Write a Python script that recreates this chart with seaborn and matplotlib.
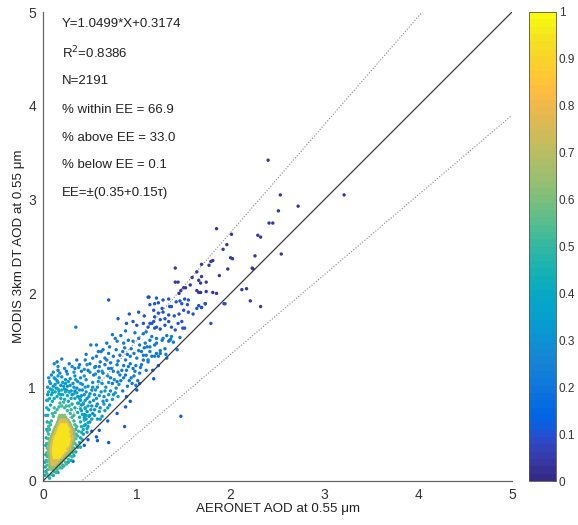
import numpy as np
import pandas as pd
import matplotlib
matplotlib.use("Agg")
import matplotlib.pyplot as plt
from matplotlib.colors import ListedColormap, Normalize
from matplotlib.cm import ScalarMappable
import seaborn as sns

# ---------------- data ----------------
# dense core, yellow
core_x = [0.12,0.145,0.17,
          0.115,0.14,0.165,0.19,
          0.11,0.135,0.16,0.185,0.21,
          0.11,0.135,0.16,0.185,0.21,0.235,
          0.11,0.135,0.16,0.185,0.21,0.235,
          0.115,0.14,0.165,0.19,0.215,0.24,0.26,
          0.12,0.145,0.17,0.195,0.22,0.245,0.27,
          0.125,0.15,0.175,0.20,0.225,0.25,0.275,
          0.13,0.155,0.18,0.205,0.23,0.255,0.28,
          0.14,0.165,0.19,0.215,0.24,0.265,
          0.15,0.175,0.20,0.225,0.25,0.275,
          0.16,0.185,0.21,0.235,0.26,
          0.17,0.195,0.22,0.245,0.27,
          0.18,0.205,0.23,0.255,
          0.195,0.22,0.245]
core_y = [0.25,0.25,0.25,
          0.275,0.275,0.275,0.275,
          0.30,0.30,0.30,0.30,0.30,
          0.325,0.325,0.325,0.325,0.325,0.325,
          0.35,0.35,0.35,0.35,0.35,0.35,
          0.375,0.375,0.375,0.375,0.375,0.375,0.375,
          0.40,0.40,0.40,0.40,0.40,0.40,0.40,
          0.425,0.425,0.425,0.425,0.425,0.425,0.425,
          0.45,0.45,0.45,0.45,0.45,0.45,0.45,
          0.475,0.475,0.475,0.475,0.475,0.475,
          0.50,0.50,0.50,0.50,0.50,0.50,
          0.525,0.525,0.525,0.525,0.525,
          0.55,0.55,0.55,0.55,0.55,
          0.575,0.575,0.575,0.575,
          0.60,0.60,0.60]
# orange ring
ring_x = [0.10,0.125, 0.095,0.12,0.145, 0.09,0.115,0.14,0.165, 0.095,0.195, 0.09,0.215,
          0.085,0.235, 0.085,0.26, 0.085,0.26,0.28, 0.09,0.285, 0.095,0.295, 0.10,0.30,
          0.105,0.305, 0.115,0.29,0.31, 0.125,0.30, 0.135,0.285,0.305, 0.145,0.295,
          0.155,0.28, 0.17,0.27, 0.18,0.205,0.23,0.255, 0.19,0.215,0.24]
ring_y = [0.175,0.175, 0.20,0.20,0.20, 0.225,0.225,0.225,0.225, 0.25,0.25, 0.275,0.275,
          0.30,0.30, 0.325,0.325, 0.35,0.35,0.35, 0.375,0.375, 0.40,0.40, 0.425,0.425,
          0.45,0.45, 0.475,0.475,0.475, 0.50,0.50, 0.525,0.525,0.525, 0.55,0.55,
          0.575,0.575, 0.60,0.60, 0.625,0.625,0.625,0.625, 0.65,0.65,0.65]
# green ring
green_x = [0.075,0.10, 0.07,0.095,0.12,0.145, 0.075,0.15,0.175, 0.07,0.17,0.195, 0.065,0.19,0.215,
           0.07,0.22,0.24, 0.065,0.24,0.26, 0.06,0.26,0.285, 0.06,0.285,0.305, 0.06,0.305,
           0.065,0.31, 0.07,0.32, 0.075,0.325, 0.08,0.33, 0.09,0.335, 0.10,0.325, 0.11,0.33,
           0.12,0.32, 0.13,0.305, 0.145,0.295, 0.155,0.28, 0.165,0.265, 0.17,0.195,0.22,0.245,
           0.18,0.205,0.23]
green_y = [0.125,0.125, 0.15,0.15,0.15,0.15, 0.175,0.175,0.175, 0.20,0.20,0.20, 0.225,0.225,0.225,
           0.25,0.25,0.25, 0.275,0.275,0.275, 0.30,0.30,0.30, 0.325,0.325,0.325, 0.35,0.35,
           0.375,0.375, 0.40,0.40, 0.425,0.425, 0.45,0.45, 0.475,0.475, 0.50,0.50, 0.525,0.525,
           0.55,0.55, 0.575,0.575, 0.60,0.60, 0.625,0.625, 0.65,0.65, 0.675,0.675,0.675,0.675,
           0.70,0.70,0.70]
# teal fringe
teal_x = [0.04,0.05,0.045,0.05,0.045,0.04,0.045,0.05,0.055,0.06,0.07,0.08,0.09,0.11,0.13,0.15,0.17,0.20,
          0.23,0.26,0.29,0.31,0.33,0.34,0.35,0.355,0.35,0.34,0.33,0.32,0.29,0.27,0.24,0.21,0.18,0.15,
          0.12,0.09,0.06,0.05,0.07,0.10,0.18,0.25,0.30,0.36,0.37,0.36,0.31,0.25,0.20,0.14,0.12,0.22,
          0.28,0.33,0.38,0.06,0.035,0.04]
teal_y = [0.08,0.12,0.17,0.21,0.26,0.30,0.35,0.40,0.45,0.50,0.55,0.60,0.64,0.69,0.73,0.76,0.79,0.80,
          0.78,0.75,0.72,0.68,0.64,0.60,0.55,0.50,0.45,0.40,0.35,0.30,0.27,0.23,0.20,0.17,0.14,0.12,
          0.10,0.07,0.05,0.53,0.62,0.72,0.83,0.80,0.76,0.58,0.48,0.38,0.26,0.18,0.14,0.09,0.78,0.84,
          0.80,0.70,0.53,0.58,0.22,0.40]
# cyan halo
cyan_x = [0.03,0.025,0.03,0.03,0.035,0.04,0.045,0.05,0.06,0.08,0.10,0.12,0.15,0.19,0.23,0.27,0.31,0.34,
          0.37,0.39,0.40,0.41,0.41,0.40,0.39,0.37,0.35,0.33,0.30,0.27,0.22,0.16,0.11,0.07,0.09,0.13,
          0.17,0.21,0.04,0.03,0.07,0.26,0.30,0.42,0.40,0.44,0.44,0.43,0.34,0.37,0.06,0.10,0.24,0.46,
          0.45,0.40,0.42,0.02,0.48,0.47,0.28,0.16,0.20,0.33,0.39,0.43,0.05,0.02]
cyan_y = [0.10,0.15,0.28,0.38,0.46,0.55,0.63,0.70,0.76,0.81,0.85,0.88,0.90,0.88,0.87,0.85,0.82,0.78,
          0.73,0.68,0.63,0.58,0.52,0.46,0.41,0.36,0.31,0.27,0.22,0.20,0.16,0.09,0.06,0.03,0.92,0.95,
          0.93,0.92,0.78,0.70,0.88,0.91,0.88,0.71,0.77,0.65,0.59,0.55,0.88,0.83,0.95,0.97,0.95,0.70,
          0.77,0.36,0.44,0.06,0.62,0.56,0.95,0.98,0.97,0.93,0.88,0.83,0.86,0.20]
# light-blue band just above the core
band_x = [0.07,0.10,0.13,0.17,0.21,0.25,0.29,0.33,0.36,0.39,0.41,0.45,0.48,0.51,0.46,0.49,0.54,0.57,
          0.60,0.63,0.56,0.60,0.53,0.45,0.40,0.35,0.27,0.22,0.15,0.12,0.08,0.50,0.48,0.45,0.43,0.52,
          0.55,0.58,0.61,0.66,0.69,0.65,0.70,0.74,0.77,0.80,0.66,0.59,0.44,0.33,0.24,0.19,0.05,0.38,
          0.41,0.44,0.47,0.40,0.30,0.16]
band_y = [1.06,0.94,1.03,0.96,1.05,0.97,1.02,1.00,0.94,0.97,0.91,0.86,0.80,0.76,0.95,0.90,0.86,0.80,
          0.74,0.69,0.97,0.91,1.00,1.00,1.04,1.08,1.06,1.01,1.07,1.10,0.98,0.70,0.58,0.60,0.50,0.66,
          0.70,0.66,0.66,0.75,0.78,0.82,0.92,0.87,0.94,0.90,0.96,1.06,1.12,1.16,1.04,0.92,0.92,0.83,
          0.75,0.68,0.52,0.90,0.96,1.12]
# blue band
blue_x = [0.04,0.05,0.08,0.11,0.14,0.16,0.19,0.23,0.26,0.28,0.31,0.34,0.37,0.40,0.43,0.45,0.47,0.49,
          0.44,0.47,0.50,0.52,0.55,0.58,0.61,0.55,0.52,0.48,0.42,0.37,0.32,0.29,0.24,0.20,0.13,0.09,
          0.06,0.11,0.18,0.26,0.34,0.40,0.46,0.53,0.58,0.62,0.65,0.68,0.71,0.63,0.67,0.72,0.75,0.60,
          0.56,0.50,0.44,0.38,0.31,0.23,0.16,0.12,0.42,0.36,0.50,0.57,0.64,0.70,0.78,0.81,0.76,0.69,
          0.63,0.55,0.47,0.53,0.50,0.46,0.44,0.41]
blue_y = [0.86,1.00,1.04,1.01,0.99,1.05,1.02,0.98,1.01,0.95,0.92,0.96,0.90,0.86,0.82,0.78,0.74,0.69,
          0.92,0.88,0.84,0.80,0.76,0.82,0.78,0.92,0.97,1.01,1.03,1.06,1.04,1.09,1.08,1.11,1.09,1.13,
          1.10,1.16,1.15,1.14,1.12,1.10,1.08,1.05,1.00,0.95,0.90,0.86,0.81,1.04,1.00,0.96,0.92,1.10,
          1.14,1.16,1.19,1.21,1.22,1.20,1.22,1.25,0.97,0.99,0.93,0.88,0.85,1.05,0.99,1.03,1.08,1.12,
          1.17,1.21,1.24,0.72,0.63,0.66,0.71,0.81]
# mid band
mid_x = [0.36,0.45,0.50,0.57,0.61,0.68,0.75,0.82,0.88,0.93,1.00,1.07,1.12,1.19,1.25,1.32,
         0.15,0.16,0.25,0.34,0.41,0.48,0.54,0.59,0.64,0.70,0.75,0.82,0.89,0.96,1.03,1.10,
         0.72,0.79,0.86,0.92,0.97,0.85,0.90,0.95,1.01,0.66,0.72,0.79,0.86,0.93,0.99,1.05,
         0.62,0.70,0.78,0.85,0.94,1.02,1.08,0.56,
         1.07,1.10,1.16,1.21,1.27,1.32,1.37,1.39,1.09,1.14,1.19,1.25,1.30,1.35,1.05,1.10,
         1.16,1.21,1.07,1.12,1.23,1.31,1.43,1.46,1.36,
         0.51,0.59,0.64,0.71,0.77,0.79,0.86,0.91,0.96,1.03,1.11,1.14,1.21,1.28,1.34,0.35,
         0.20,0.28,0.39,0.46,0.53,0.60,0.66,0.73,0.80,0.84,0.91,0.98,1.04,0.87,0.90,0.97,
         1.14,0.80,0.74,0.83,0.88,0.94,0.99,0.57,0.68,0.74,0.83,0.88,0.98,1.02]
mid_y = [1.29,1.29,1.25,1.33,1.27,1.29,1.33,1.34,1.29,1.33,1.31,1.34,1.29,1.33,1.36,1.31,
         1.27,1.18,1.17,1.20,1.17,1.18,1.13,1.17,1.15,1.20,1.17,1.13,1.18,1.20,1.15,1.18,
         1.10,1.06,1.10,1.07,1.12,0.96,1.01,1.04,1.07,1.24,1.26,1.24,1.23,1.25,1.23,1.24,
         1.38,1.36,1.40,1.38,1.41,1.39,1.42,1.22,
         1.57,1.59,1.54,1.52,1.50,1.55,1.54,1.48,1.47,1.43,1.45,1.39,1.41,1.50,1.38,1.34,
         1.33,1.36,1.29,1.27,1.33,1.35,1.40,1.53,1.51,
         1.45,1.38,1.40,1.43,1.52,1.49,1.47,1.50,1.49,1.45,1.43,1.50,1.47,1.52,1.49,1.64,
         1.30,1.25,1.24,1.35,1.31,1.22,1.31,1.20,1.28,1.18,1.22,1.17,1.21,1.42,1.35,1.36,
         1.38,1.16,1.04,1.07,1.13,1.10,1.02,1.45,1.47,1.56,1.55,1.60,1.58,1.52]
# points below the 1:1 line
low_x = [0.89,0.88,0.79,0.69,0.60,0.58,0.32,0.48,0.44,0.87,0.70,1.17,1.23,1.18,1.47,0.52,0.57,1.00,1.03,0.93]
low_y = [0.90,0.79,0.72,0.64,0.54,0.43,0.21,0.44,0.38,0.58,0.41,1.18,1.23,1.09,0.69,0.53,0.47,0.97,1.04,0.85]
# upper band, purple
upper_x = [0.80,0.89,0.96,1.00,1.07,1.12,1.16,1.19,1.14,1.18,1.21,1.25,1.30,1.34,1.37,1.41,1.44,1.48,1.51,1.49,
           1.12,1.21,1.14,1.19,1.23,1.28,1.34,1.18,1.23,1.28,1.34,1.19,1.25,1.30,
           1.35,1.42,1.48,1.50,1.55,1.60,1.66,1.69,1.46,1.51,1.55,1.54,1.27,1.37,1.64,1.73,1.79,1.94,
           0.70,0.92,1.02,1.08,1.40,1.45]
upper_y = [1.73,1.68,1.70,1.66,1.68,1.64,1.68,1.63,1.68,1.70,1.64,1.62,1.66,1.70,1.64,1.61,1.68,1.70,1.63,1.63,
           1.96,1.95,1.88,1.89,1.90,1.93,1.94,1.82,1.79,1.80,1.77,1.75,1.72,1.73,
           1.86,1.91,1.89,1.82,1.80,1.78,1.87,1.85,1.92,1.94,1.93,1.88,1.84,1.86,1.84,1.89,1.68,1.89,
           1.93,1.78,1.80,1.76,1.76,1.78]
# sparse high values
sparse_x = [2.40,2.53,2.72,2.51,2.41,2.45,3.21,2.29,2.32,2.01,2.00,2.02,2.26,2.54,2.23,1.85,1.92,1.96,
            1.69,1.77,1.79,1.81,1.97,2.24,1.69,1.88,1.68,1.74,1.68,1.81,1.85,2.12,2.17,2.21,2.32,1.93,
            1.73,1.69,1.41,1.41,1.44,1.52,1.64,1.64,1.59,1.66,1.50,1.47,1.45,1.57,1.66,1.74,1.13]
sparse_y = [3.42,3.05,2.93,2.88,2.75,2.75,3.05,2.62,2.60,2.63,2.38,2.37,2.40,2.42,2.27,2.69,2.47,2.52,
            2.31,2.30,2.34,2.35,2.26,2.26,2.18,2.19,2.11,2.12,2.01,2.01,2.00,2.04,2.05,1.92,1.86,1.89,
            1.89,1.85,2.27,2.12,2.12,2.06,2.03,2.23,2.17,2.14,2.06,2.03,2.00,2.09,2.01,2.02,1.96]

groups = [  # (x, y, normalised density)
    (sparse_x, sparse_y, 0.04),
    (upper_x, upper_y, 0.10),
    (low_x, low_y, 0.12),
    (mid_x, mid_y, 0.21),
    (blue_x, blue_y, 0.29),
    (band_x, band_y, 0.34),
    (cyan_x, cyan_y, 0.41),
    (teal_x, teal_y, 0.50),
    (green_x, green_y, 0.62),
    (ring_x, ring_y, 0.78),
    (core_x, core_y, 0.95),
]

stats_text = ["Y=1.0499*X+0.3174", "R$^2$=0.8386", "N=2191", "% within EE = 66.9",
              "% above EE = 33.0", "% below EE = 0.1", "EE=±(0.35+0.15τ)"]
axis_ticks = [0, 1, 2, 3, 4, 5]
cbar_ticks = [0, 0.1, 0.2, 0.3, 0.4, 0.5, 0.6, 0.7, 0.8, 0.9, 1]
cbar_labels = ["0", "0.1", "0.2", "0.3", "0.4", "0.5", "0.6", "0.7", "0.8", "0.9", "1"]

# ---------------- parula colormap ----------------
parula_data = [
 [0.2081,0.1663,0.5292],[0.2116,0.1898,0.5777],[0.2123,0.2138,0.6270],[0.2081,0.2386,0.6771],
 [0.1959,0.2645,0.7279],[0.1707,0.2919,0.7792],[0.1253,0.3242,0.8303],[0.0591,0.3598,0.8683],
 [0.0117,0.3875,0.8820],[0.0060,0.4086,0.8828],[0.0165,0.4266,0.8786],[0.0329,0.4430,0.8720],
 [0.0498,0.4586,0.8641],[0.0629,0.4737,0.8554],[0.0723,0.4887,0.8467],[0.0779,0.5040,0.8384],
 [0.0793,0.5200,0.8312],[0.0749,0.5375,0.8263],[0.0641,0.5570,0.8240],[0.0488,0.5772,0.8228],
 [0.0343,0.5966,0.8199],[0.0265,0.6137,0.8135],[0.0239,0.6287,0.8038],[0.0231,0.6418,0.7913],
 [0.0228,0.6535,0.7768],[0.0267,0.6642,0.7607],[0.0384,0.6743,0.7436],[0.0590,0.6838,0.7254],
 [0.0843,0.6928,0.7062],[0.1133,0.7015,0.6859],[0.1453,0.7098,0.6646],[0.1801,0.7177,0.6424],
 [0.2178,0.7250,0.6193],[0.2586,0.7317,0.5954],[0.3022,0.7376,0.5712],[0.3482,0.7424,0.5473],
 [0.3953,0.7459,0.5244],[0.4420,0.7481,0.5033],[0.4871,0.7491,0.4840],[0.5300,0.7491,0.4661],
 [0.5709,0.7485,0.4494],[0.6099,0.7473,0.4337],[0.6473,0.7456,0.4188],[0.6834,0.7435,0.4044],
 [0.7184,0.7411,0.3905],[0.7525,0.7384,0.3768],[0.7858,0.7356,0.3633],[0.8185,0.7327,0.3498],
 [0.8507,0.7299,0.3360],[0.8824,0.7274,0.3217],[0.9139,0.7258,0.3063],[0.9450,0.7261,0.2886],
 [0.9739,0.7314,0.2666],[0.9938,0.7455,0.2403],[0.9990,0.7653,0.2164],[0.9955,0.7861,0.1967],
 [0.9880,0.8066,0.1794],[0.9789,0.8271,0.1633],[0.9697,0.8481,0.1475],[0.9626,0.8705,0.1309],
 [0.9589,0.8949,0.1132],[0.9598,0.9218,0.0948],[0.9661,0.9514,0.0755],[0.9763,0.9831,0.0538]]
parula = ListedColormap(parula_data, name="parula")

rows = []
for gx, gy, gc in groups:
    for xv, yv in zip(gx, gy):
        rows.append((xv, yv, gc))
df = pd.DataFrame(rows, columns=["aeronet", "modis", "density"]).sort_values("density", kind="stable")

# ---------------- figure ----------------
sns.set_theme(style="white")
plt.rcParams["font.family"] = ["Liberation Sans", "DejaVu Sans"]

fig = plt.figure(figsize=(5.78, 5.25), dpi=100)
ax = fig.add_axes([43/578, 44/525, 469/578, 469/525])
cax = fig.add_axes([529/578, 44/525, 27/578, 469/525])

norm = Normalize(0, 1)
sns.scatterplot(data=df, x="aeronet", y="modis", hue="density", palette=parula,
                hue_norm=norm, s=6, linewidth=0, legend=False, ax=ax, zorder=2)

lim = [0, 5]
ax.plot(lim, lim, color="#3a3a3a", lw=0.9, zorder=3)
xs = np.array([0, 5.0])
ax.plot(xs, xs + (0.35 + 0.15 * xs), color="#888888", lw=0.8, ls=(0, (1, 1.6)), zorder=1)
ax.plot(xs, xs - (0.35 + 0.15 * xs), color="#888888", lw=0.8, ls=(0, (1, 1.6)), zorder=1)

ax.set_xlim(0, 5)
ax.set_ylim(0, 5)
ax.set_xticks(axis_ticks)
ax.set_yticks(axis_ticks)
ax.set_xticklabels([str(t) for t in axis_ticks])
ax.set_yticklabels([str(t) for t in axis_ticks])
ax.tick_params(direction="in", length=4, width=0.8, colors="#555555", labelcolor="#333333",
               labelsize=10, pad=5)
for side in ["top", "right"]:
    ax.spines[side].set_visible(False)
for side in ["left", "bottom"]:
    ax.spines[side].set_color("#666666")
    ax.spines[side].set_linewidth(0.9)
ax.set_xlabel("AERONET AOD at 0.55 μm", fontsize=9.6, color="#222222", labelpad=1)
ax.set_ylabel("MODIS 3km DT AOD at 0.55 μm", fontsize=9.6, color="#222222", labelpad=2)

ys = [4.87, 4.56, 4.26, 3.96, 3.66, 3.37, 3.07]
for txt, yv in zip(stats_text, ys):
    ax.text(0.2, yv, txt, fontsize=9.5, color="#222222", va="center", ha="left")

cb = fig.colorbar(ScalarMappable(norm=norm, cmap=parula), cax=cax)
cb.set_ticks(cbar_ticks)
cb.set_ticklabels(cbar_labels)
cb.ax.tick_params(direction="in", length=3, width=0.6, labelsize=8.5, colors="#555555",
                  labelcolor="#333333", pad=2)
cb.outline.set_linewidth(0.6)
cb.outline.set_edgecolor("#555555")

fig.savefig("out.png", dpi=100, facecolor="white")
